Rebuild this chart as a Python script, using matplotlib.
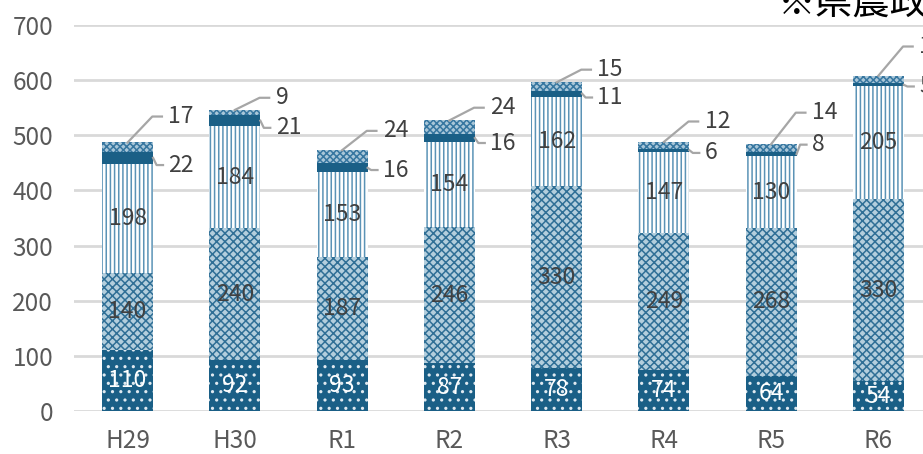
import matplotlib
matplotlib.use('Agg')
import matplotlib.pyplot as plt
import numpy as np

categories = ['H29', 'H30', 'R1', 'R2', 'R3', 'R4', 'R5', 'R6']
seg1 = [110, 92, 93, 87, 78, 74, 64, 54]
seg2 = [140, 240, 187, 246, 330, 249, 268, 330]
seg3 = [198, 184, 153, 154, 162, 147, 130, 205]
seg4 = [22, 21, 16, 16, 11, 6, 8, 5]
seg5 = [17, 9, 24, 24, 15, 12, 14, 14]
y_ticks = [0, 100, 200, 300, 400, 500, 600, 700]
note_text = '※県農政部調べ'

# label placement offsets (value units) for the outside labels
top_label_offset = [47, 22, 35, 23, 23, 37, 57, 53]
band_label_offset = [-13, -13, -4, -9, -7, -5, 17, -3]

plt.rcParams['font.family'] = ['Noto Sans CJK JP', 'DejaVu Sans']
plt.rcParams['hatch.linewidth'] = 1.1

DARK = '#1a5f86'
TXT = '#404040'
GRID = '#d9d9d9'
LEAD = '#a6a6a6'

fig = plt.figure(figsize=(9.23, 4.54), dpi=100)
ax = fig.add_axes([74 / 923, 43 / 454, 858 / 923, 386 / 454])

x = np.arange(len(categories))
w = 0.475
s1 = np.array(seg1); s2 = np.array(seg2); s3 = np.array(seg3)
s4 = np.array(seg4); s5 = np.array(seg5)
b2 = s1
b3 = s1 + s2
b4 = b3 + s3
b5 = b4 + s4
tops = b5 + s5

ax.bar(x, s1, w, color=DARK, edgecolor='#dfe9f0', hatch='..', linewidth=0, zorder=3)
ax.bar(x, s2, w, bottom=b2, color='#b3cedd', edgecolor='#2f6f96', hatch='xxxx', linewidth=0, zorder=3)
ax.bar(x, s3, w, bottom=b3, color='white', edgecolor='#5b93b6', hatch='||||', linewidth=0, zorder=3)
ax.bar(x, s4, w, bottom=b4, color=DARK, linewidth=0, zorder=3)
ax.bar(x, s5, w, bottom=b5, color='#a9c7d9', edgecolor='#3676a0', hatch='xxxxx', linewidth=0, zorder=3)

fs = 16.5
for i in range(len(categories)):
    ax.text(x[i], s1[i] / 2, str(seg1[i]), color='white', ha='center', va='center', fontsize=fs, zorder=5)
    ax.text(x[i], b2[i] + s2[i] / 2, str(seg2[i]), color=TXT, ha='center', va='center', fontsize=fs, zorder=5)
    ax.text(x[i], b3[i] + s3[i] / 2, str(seg3[i]), color=TXT, ha='center', va='center', fontsize=fs, zorder=5)
    # top segment label with leader line
    ly = tops[i] + top_label_offset[i]
    ax.plot([x[i], x[i] + 0.23, x[i] + 0.32], [tops[i], ly, ly], color=LEAD, lw=1.6, zorder=4, clip_on=False)
    ax.text(x[i] + 0.38, ly, str(seg5[i]), color=TXT, ha='left', va='center', fontsize=fs, zorder=5, clip_on=False)
    # band label with leader line
    bc = b4[i] + s4[i] / 2
    by = bc + band_label_offset[i]
    ax.plot([x[i] + w / 2, x[i] + 0.27, x[i] + 0.33], [bc, by, by], color=LEAD, lw=1.6, zorder=4, clip_on=False)
    ax.text(x[i] + 0.38, by, str(seg4[i]), color=TXT, ha='left', va='center', fontsize=fs, zorder=5, clip_on=False)

ax.set_xlim(-0.5, len(categories) - 0.5)
ax.set_ylim(0, 700)
ax.set_yticks(y_ticks)
ax.set_yticklabels([str(v) for v in y_ticks])
ax.set_xticks(x)
ax.set_xticklabels(categories)
ax.grid(axis='y', color=GRID, lw=2, zorder=0)
ax.set_axisbelow(True)
for sp in ax.spines.values():
    sp.set_visible(False)
ax.tick_params(axis='both', length=0, labelsize=17.5, colors='#595959')
ax.tick_params(axis='y', pad=15)
ax.tick_params(axis='x', pad=12)

fig.text(778 / 923, 1 - 14 / 454, note_text, fontsize=27, color='black', ha='left', va='baseline')

fig.savefig('out.png', dpi=100)
